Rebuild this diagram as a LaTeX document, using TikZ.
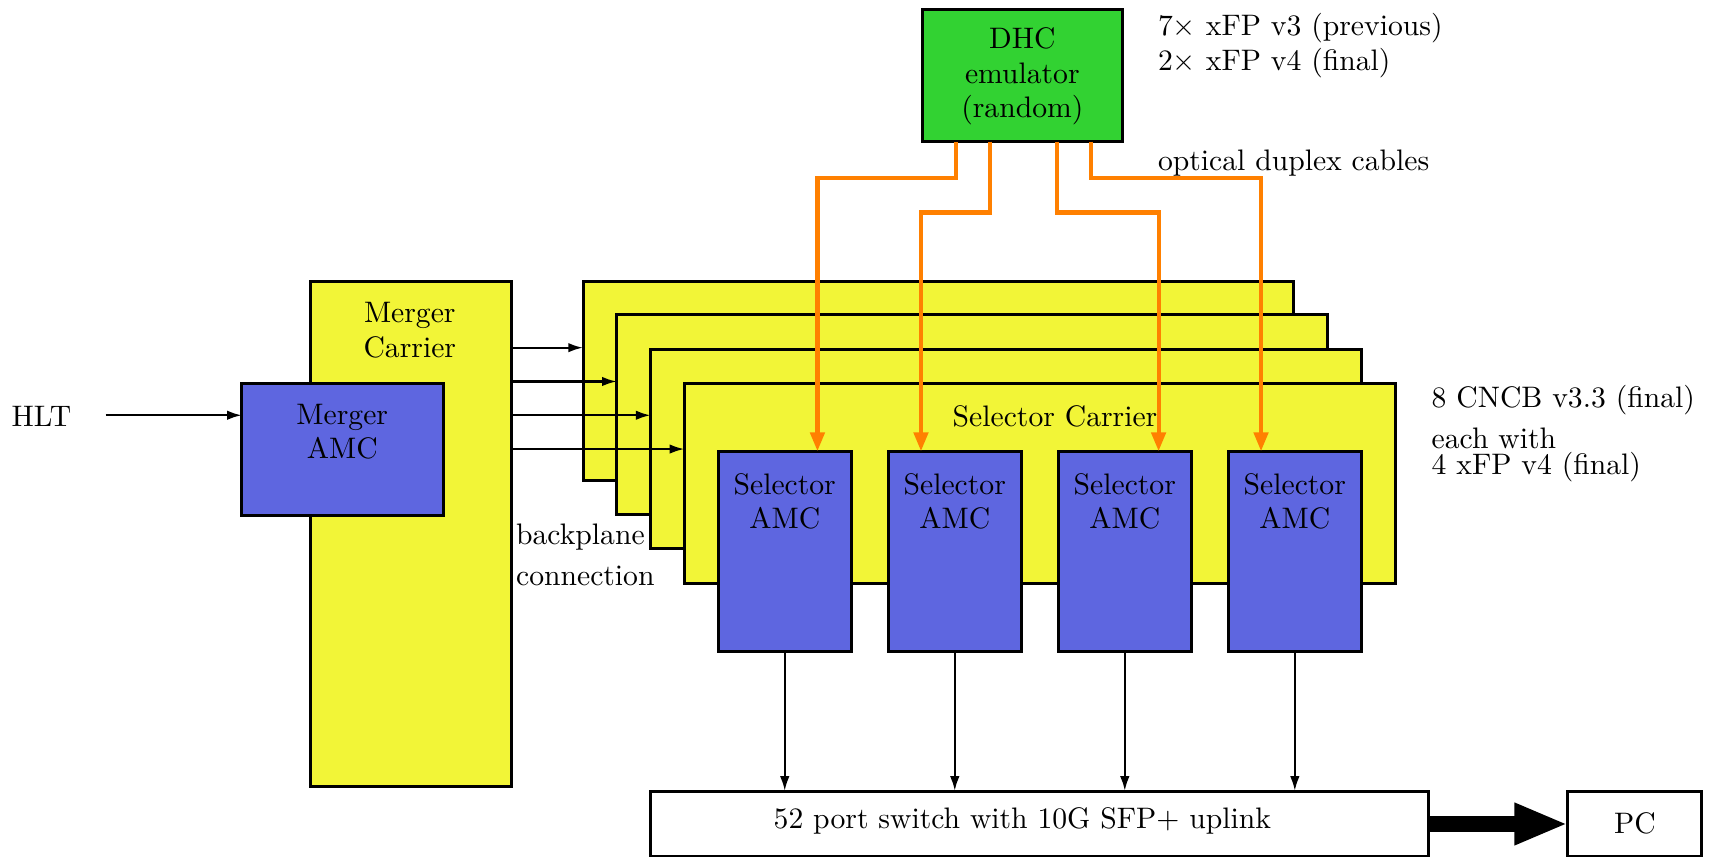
\documentclass[tikz,border=0pt]{standalone}
\usetikzlibrary{arrows.meta,calc}
\definecolor{cyel}{RGB}{242,245,55}
\definecolor{cblue}{RGB}{94,102,224}
\definecolor{cgreen}{RGB}{50,210,50}
\definecolor{corange}{RGB}{255,128,0}
\begin{document}
\begin{tikzpicture}[x=0.3675pt,y=-0.3675pt,
  box/.style={draw=black,line width=1pt,inner sep=0pt,outer sep=0pt},
  carrier/.style={box,fill=cyel,minimum width=239.6pt,minimum height=67.3pt},
  samc/.style={box,fill=cblue,minimum width=44.8pt,minimum height=67.6pt},
  txt/.style={inner sep=0pt,font=\fontsize{10}{11.5}\selectfont,align=center},
  ltxt/.style={inner sep=0pt,font=\fontsize{10}{11.5}\selectfont,align=left,anchor=west},
  arr/.style={line width=0.8pt,-{Latex[length=5pt,width=3.2pt]}},
  opt/.style={corange,line width=1.4pt,-{Triangle[length=6.4pt,width=4.8pt]}},
  big/.style={line width=5.7pt,-{Triangle[length=18pt,width=13pt]}}
]
\useasboundingbox (0,0) rectangle (1568,786);
% DHC emulator
\node[box,fill=cgreen,minimum width=67.6pt,minimum height=44.5pt] (dhc) at (938,69.5) {};
\node[txt] (dhct) at (938,70) {DHC\\emulator\\(random)};
\node[txt,anchor=north west,align=left,font=\fontsize{10}{11.8}\selectfont] (xfp) at (1062,12) {7$\times$ xFP v3 (previous)\\2$\times$ xFP v4 (final)};
\node[ltxt] (odc) at (1062,150) {optical duplex cables};
% Merger
\node[box,fill=cyel,minimum width=67.6pt,minimum height=170.5pt] (mc) at (377,490) {};
\node[txt] (mct) at (376,303) {Merger\\Carrier};
\node[box,fill=cblue,minimum width=68pt,minimum height=44.5pt] (mamc) at (314.5,412.5) {};
\node[txt] (mamct) at (314,396) {Merger\\AMC};
\node[txt] (hlt) at (38,382) {HLT};
\draw[arr] (97,381) coordinate (hltr) -- (mamc.west |- hltr);
% Selector carriers
\node[carrier] (c1) at (861,349.5) {};
\node[carrier] (c2) at (892,380.5) {};
\node[carrier] (c3) at (923,412) {};
\node[carrier] (c4) at (954,443.5) {};
\node[txt] (sct) at (968,382) {Selector Carrier};
\draw[arr] (mc.east |- 0,319) -- (c1.west |- 0,319);
\draw[arr] (mc.east |- 0,350) -- (c2.west |- 0,350);
\draw[arr] (mc.east |- 0,381) -- (c3.west |- 0,381);
\draw[arr] (mc.east |- 0,412) -- (c4.west |- 0,412);
\node[ltxt] (bp1) at (473,493) {backplane};
\node[ltxt] (bp2) at (473,528) {connection};
\node[ltxt] (cncb) at (1313,367) {8 CNCB v3.3 (final)};
\node[ltxt] (ew) at (1313,402) {each with};
\node[ltxt] (xfp4) at (1313,429) {4 xFP v4 (final)};
% Selector AMCs
\foreach \i/\x in {1/720,2/876,3/1032,4/1188}{
  \node[samc] (s\i) at (\x,506) {};
  \node[txt] (s\i t) at (\x,460) {Selector\\AMC};
}
% switch and PC
\node[box,fill=white,minimum width=262.4pt,minimum height=22.2pt] (sw) at (954,756) {};
\node[txt] (swt) at (938,753) {52 port switch with 10G SFP+ uplink};
\node[box,fill=white,minimum width=45.2pt,minimum height=22.2pt] (pc) at (1500,756) {};
\node[txt] (pct) at (1500,755) {PC};
\foreach \i in {1,2,3,4}{
  \draw[arr] (s\i.south) -- (s\i.south |- sw.north);
}
\draw[big] (sw.east) -- (pc.west);
% optical cables
\draw[opt] (dhc.south -| 877,0) -- (877,163) -| (s1.north -| 750,0);
\draw[opt] (dhc.south -| 908,0) -- (908,195) -| (s2.north -| 845,0);
\draw[opt] (dhc.south -| 970,0) -- (970,195) -| (s3.north -| 1063,0);
\draw[opt] (dhc.south -| 1001,0) -- (1001,163) -| (s4.north -| 1157,0);
\end{tikzpicture}
\end{document}
